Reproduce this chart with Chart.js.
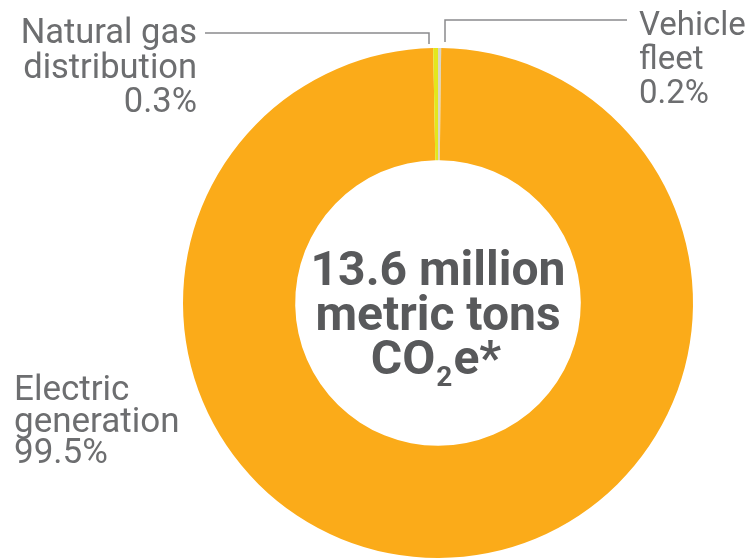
<!DOCTYPE html>
<html>
<head>
<meta charset="utf-8">
<script src="https://cdn.jsdelivr.net/npm/chart.js@4"></script>
<style>
  html, body { margin: 0; padding: 0; background: #fff; }
  #wrap { width: 751px; height: 559px; }
</style>
</head>
<body>
<div id="wrap"><canvas id="emissionsChart" width="751" height="559"></canvas></div>
<script>
// slices go clockwise from 12 o'clock
const categories = ['Vehicle fleet', 'Electric generation', 'Natural gas distribution'];
const shares = [0.2, 99.5, 0.3];
const labelLines = [['Vehicle', 'fleet'], ['Electric', 'generation'], ['Natural gas', 'distribution']];
const totalText = ['13.6 million', 'metric tons'];
const sliceColors = ['#d9d5c5', '#fbab19', '#e3e71d'];

const textGrey = '#6d6e70';
const darkGrey = '#58595b';

const labelsPlugin = {
    id: 'sliceLabels',
    afterDraw(chart) {
        const c = chart.ctx;
        const arc = chart.getDatasetMeta(0).data[1];
        const cx = arc.x, cy = arc.y, r = arc.outerRadius;
        const top = cy - r;

        c.save();
        // leader lines
        c.strokeStyle = '#8a8b8d';
        c.lineWidth = 1.5;
        c.beginPath();
        c.moveTo(205, 33); c.lineTo(cx - 9, 33); c.lineTo(cx - 9, top - 4);
        c.moveTo(cx + 7, top - 6); c.lineTo(cx + 7, 20); c.lineTo(627, 20);
        c.stroke();

        // outside labels
        c.fillStyle = textGrey;
        const pct = i => shares[i].toFixed(1) + '%';

        c.font = '34.5px Roboto';
        c.textAlign = 'right';
        [labelLines[2][0], labelLines[2][1], pct(2)].forEach((t, k) => c.fillText(t, 197, 43 + k * 34.5));

        c.textAlign = 'left';
        c.font = '33px Roboto';
        [labelLines[0][0], labelLines[0][1], pct(0)].forEach((t, k) => c.fillText(t, 639, 35 + k * 34));
        c.font = '35px Roboto';
        [labelLines[1][0], labelLines[1][1], pct(1)].forEach((t, k) => c.fillText(t, 14, 400 + k * 31.5));

        // centre total
        c.fillStyle = darkGrey;
        c.textAlign = 'center';
        c.font = 'bold 48px Roboto';
        c.fillText(totalText[0], cx, 285);
        c.fillText(totalText[1], cx, 330);

        c.textAlign = 'left';
        const big = 'bold 48px Roboto', small = 'bold 28px Roboto';
        c.font = big; const wCO = c.measureText('CO').width, wE = c.measureText('e*').width;
        c.font = small; const w2 = c.measureText('2').width;
        let x = cx - (wCO + w2 + 2 + wE) / 2 - 2;
        c.font = big; c.fillText('CO', x, 374); x += wCO + 1;
        c.font = small; c.fillText('2', x, 386); x += w2 + 1;
        c.font = big; c.fillText('e*', x, 374);
        c.restore();
    }
};

new Chart(document.getElementById('emissionsChart'), {
    type: 'doughnut',
    data: {
        labels: categories,
        datasets: [{
            data: shares,
            backgroundColor: sliceColors,
            borderWidth: 0
        }]
    },
    options: {
        responsive: false,
        animation: false,
        cutout: '56%',
        layout: { padding: { left: 183, right: 58, top: 48, bottom: 1 } },
        plugins: {
            legend: { display: false },
            tooltip: { enabled: false }
        }
    },
    plugins: [labelsPlugin]
});
</script>
</body>
</html>
